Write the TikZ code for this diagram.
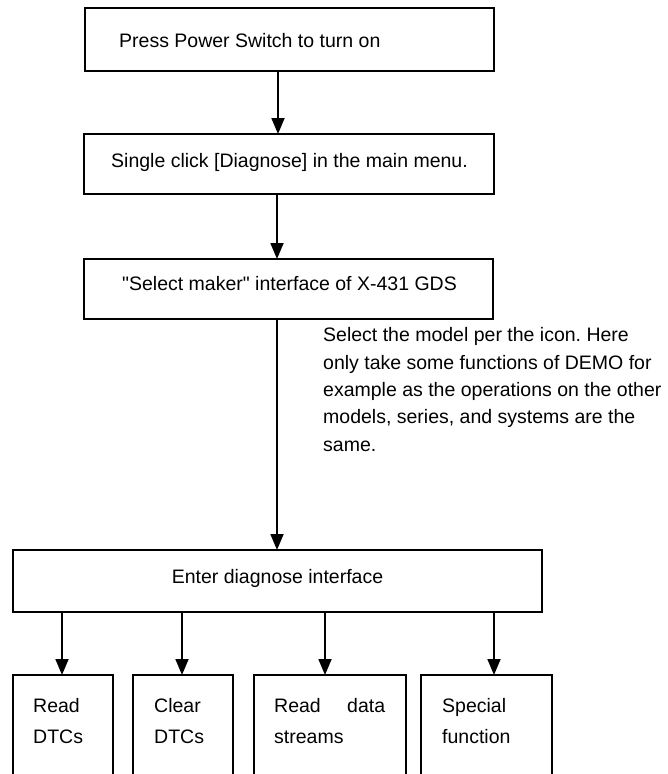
\documentclass[tikz,border=0pt]{standalone}
\usepackage{fontspec}
\setmainfont{Liberation Sans}[Ligatures=TeXOff]
\usetikzlibrary{arrows.meta}
\frenchspacing
\begin{document}
\begin{tikzpicture}[x=1pt,y=-1pt,
  box/.style={draw,line width=1.8pt,inner sep=0pt,outer sep=0pt,rectangle},
  arr/.style={line width=1.8pt,-{Triangle[width=13pt,length=16pt]}},
  lbl/.style={inner sep=0pt,font=\fontsize{19.5}{27.3}\selectfont\frenchspacing},
  blbl/.style={inner sep=0pt,align=left,anchor=base west,font=\fontsize{19.5}{31}\selectfont}]
\useasboundingbox (0,0) rectangle (667,774);
\clip (0,0) rectangle (667,774);
% main boxes
\node[box,minimum width=409pt,minimum height=63pt] (b1) at (289.5,39.5) {};
\node[box,minimum width=410pt,minimum height=60pt] (b2) at (289,164) {};
\node[box,minimum width=409pt,minimum height=60pt] (b3) at (288.5,289) {};
\node[box,minimum width=529pt,minimum height=62pt] (b4) at (277.5,581) {};
% bottom boxes (run past the lower edge)
\node[box,minimum width=100pt,minimum height=140pt,anchor=north] (bA) at (63,675) {};
\node[box,minimum width=100pt,minimum height=140pt,anchor=north] (bB) at (183,675) {};
\node[box,minimum width=152pt,minimum height=140pt,anchor=north] (bC) at (330,675) {};
\node[box,minimum width=131pt,minimum height=140pt,anchor=north] (bD) at (486.5,675) {};
% texts
\node[lbl,anchor=base west] (t1) at (119,47) {Press Power Switch to turn on};
\node[lbl,anchor=base] (t2) at (289.5,167) {Single click [Diagnose] in the main menu.};
\node[lbl,anchor=base] (t3) at (289.5,290) {"Select maker" interface of X-431 GDS};
\node[lbl,anchor=base] (t4) at (277.5,583) {Enter diagnose interface};
\node[lbl,anchor=base west,align=left] (note) at (323,451) {Select the model per the icon. Here\\only take some functions of DEMO for\\example as the operations on the other\\models, series, and systems are the\\same.};
\node[blbl] (tA) at (33,743) {Read\\DTCs};
\node[blbl] (tB) at (154,743) {Clear\\DTCs};
\node[blbl] (tC) at (274,743) {\makebox[111pt][l]{Read\hfill data}\\streams};
\node[blbl] (tD) at (442,743) {Special\\function};
% arrow columns
\coordinate (c1) at (278,0);
\coordinate (c2) at (277,0);
\coordinate (cA) at (62,0);
\coordinate (cB) at (182,0);
\coordinate (cC) at (325,0);
\coordinate (cD) at (494,0);
\draw[arr] (b1.south -| c1) -- (b2.north -| c1);
\draw[arr] (b2.south -| c2) -- (b3.north -| c2);
\draw[arr] (b3.south -| c2) -- (b4.north -| c2);
\draw[arr] (b4.south -| cA) -- (bA.north -| cA);
\draw[arr] (b4.south -| cB) -- (bB.north -| cB);
\draw[arr] (b4.south -| cC) -- (bC.north -| cC);
\draw[arr] (b4.south -| cD) -- (bD.north -| cD);
\end{tikzpicture}
\end{document}
